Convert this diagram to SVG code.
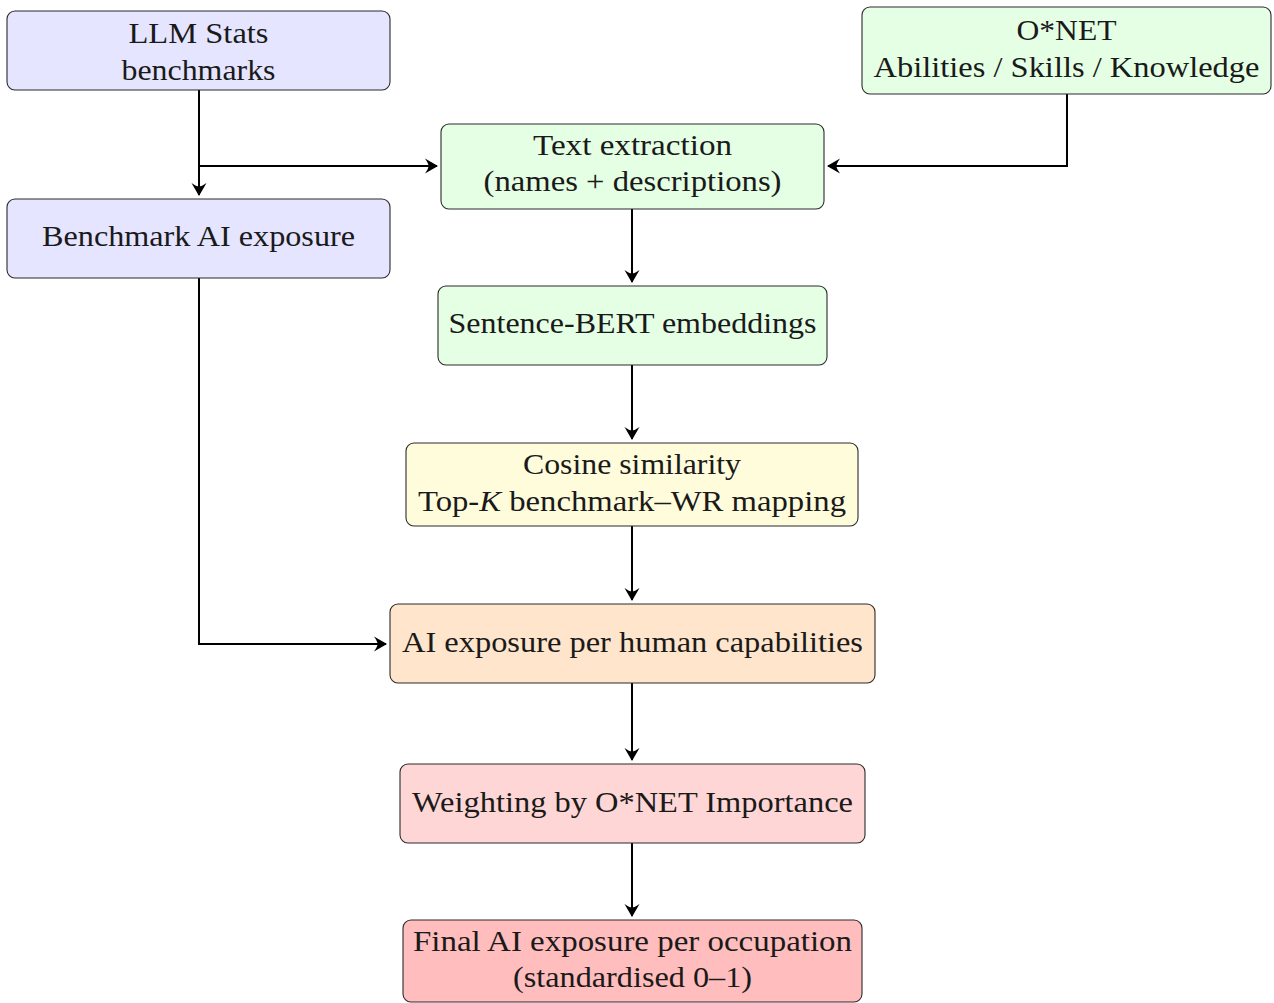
<svg xmlns="http://www.w3.org/2000/svg" width="1274" height="1003" viewBox="0 0 1274 1003">
<style>
.box{stroke:#2b2b2b;stroke-width:1.1}
.t{font-family:"Liberation Serif","Times New Roman",serif;font-size:30px;fill:#1a1a1a;text-anchor:middle}
.c{fill:none;stroke:#000;stroke-width:2}
</style>
<defs>
<marker id="ah" markerUnits="userSpaceOnUse" markerWidth="18" markerHeight="18" viewBox="-14 -9 16 18" refX="0" refY="0" orient="auto">
<path d="M1,0 L-12,-7.5 Q-8.5,-2.5 -8.5,0 Q-8.5,2.5 -12,7.5 Z" fill="#000"/>
</marker>
</defs>
<rect width="1274" height="1003" fill="#fff"/>
<g id="connectors">
<path class="c" d="M199,90 V195" marker-end="url(#ah)"/>
<path class="c" d="M199,166 H437" marker-end="url(#ah)"/>
<path class="c" d="M1067,94 V166 H828" marker-end="url(#ah)"/>
<path class="c" d="M632,209 V282" marker-end="url(#ah)"/>
<path class="c" d="M632,365 V439" marker-end="url(#ah)"/>
<path class="c" d="M632,526 V600" marker-end="url(#ah)"/>
<path class="c" d="M199,278 V644 H386" marker-end="url(#ah)"/>
<path class="c" d="M632,683 V760" marker-end="url(#ah)"/>
<path class="c" d="M632,843 V916" marker-end="url(#ah)"/>
</g>
<g id="llm">
<rect class="box" x="7" y="11" width="383" height="79" rx="8" fill="#E5E5FF"/>
<text class="t" x="198.5" y="43" textLength="140" lengthAdjust="spacingAndGlyphs">LLM Stats</text>
<text class="t" x="198.5" y="80" textLength="154" lengthAdjust="spacingAndGlyphs">benchmarks</text>
</g>
<g id="bench">
<rect class="box" x="7" y="199" width="383" height="79" rx="8" fill="#E5E5FF"/>
<text class="t" x="198.5" y="246" textLength="313" lengthAdjust="spacingAndGlyphs">Benchmark AI exposure</text>
</g>
<g id="onet">
<rect class="box" x="862" y="7" width="409" height="87" rx="8" fill="#E5FFE5"/>
<text class="t" x="1066.5" y="40" textLength="100" lengthAdjust="spacingAndGlyphs">O*NET</text>
<text class="t" x="1066.5" y="77" textLength="386" lengthAdjust="spacingAndGlyphs">Abilities / Skills / Knowledge</text>
</g>
<g id="extract">
<rect class="box" x="441" y="124" width="383" height="85" rx="8" fill="#E5FFE5"/>
<text class="t" x="632.5" y="155" textLength="199" lengthAdjust="spacingAndGlyphs">Text extraction</text>
<text class="t" x="632.5" y="191" textLength="298" lengthAdjust="spacingAndGlyphs">(names + descriptions)</text>
</g>
<g id="sbert">
<rect class="box" x="438" y="286" width="389" height="79" rx="8" fill="#E5FFE5"/>
<text class="t" x="632.5" y="333" textLength="368" lengthAdjust="spacingAndGlyphs">Sentence-BERT embeddings</text>
</g>
<g id="cosine">
<rect class="box" x="406" y="443" width="452" height="83" rx="8" fill="#FFFCDB"/>
<text class="t" x="632" y="474" textLength="218" lengthAdjust="spacingAndGlyphs">Cosine similarity</text>
<text class="t" x="632" y="511" textLength="428" lengthAdjust="spacingAndGlyphs">Top-<tspan font-style="italic">K</tspan> benchmark–WR mapping</text>
</g>
<g id="aiexp">
<rect class="box" x="390" y="604" width="485" height="79" rx="8" fill="#FFE5CC"/>
<text class="t" x="632.5" y="652" textLength="461" lengthAdjust="spacingAndGlyphs">AI exposure per human capabilities</text>
</g>
<g id="weight">
<rect class="box" x="400" y="764" width="465" height="79" rx="8" fill="#FFD6D6"/>
<text class="t" x="632.5" y="812" textLength="441" lengthAdjust="spacingAndGlyphs">Weighting by O*NET Importance</text>
</g>
<g id="final">
<rect class="box" x="403" y="920" width="459" height="82" rx="8" fill="#FFBDBD"/>
<text class="t" x="632.5" y="951" textLength="439" lengthAdjust="spacingAndGlyphs">Final AI exposure per occupation</text>
<text class="t" x="632.5" y="987" textLength="239" lengthAdjust="spacingAndGlyphs">(standardised 0–1)</text>
</g>
</svg>
